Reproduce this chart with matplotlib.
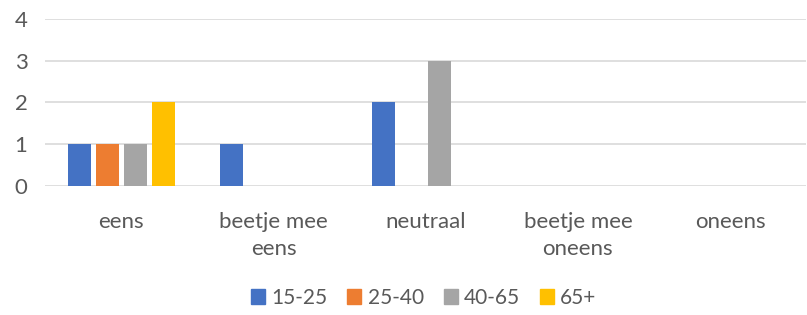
import numpy as np
import matplotlib.pyplot as plt
from matplotlib.patches import Patch

categories = ["eens", "beetje mee\neens", "neutraal", "beetje mee\noneens", "oneens"]
series = ["15-25", "25-40", "40-65", "65+"]
vals_15_25 = [1, 1, 2, 0, 0]
vals_25_40 = [1, 0, 0, 0, 0]
vals_40_65 = [1, 0, 3, 0, 0]
vals_65 = [2, 0, 0, 0, 0]
colors = ["#4472C4", "#ED7D31", "#A5A5A5", "#FFC000"]

plt.rcParams["font.family"] = ["Lato", "DejaVu Sans"]
text_color = "#595959"

fig = plt.figure(figsize=(8.07, 3.15), dpi=100)
ax = fig.add_axes([0.056, 0.41, 0.943, 0.53])

x = np.arange(len(categories))
step = 0.184
width = 0.15
for i, (vals, c) in enumerate(zip([vals_15_25, vals_25_40, vals_40_65, vals_65], colors)):
    ax.bar(x + (i - 1.5) * step, vals, width=width, color=c, zorder=3)

ax.set_xlim(-0.5, len(categories) - 0.5)
ax.set_ylim(0, 4)
ax.set_yticks([0, 1, 2, 3, 4])
ax.grid(axis="y", color="#D9D9D9", linewidth=1.2, zorder=0)
for s in ax.spines.values():
    s.set_visible(False)
ax.tick_params(axis="both", length=0, labelsize=16, colors=text_color)
ax.tick_params(axis="y", pad=22)
for lbl in ax.get_yticklabels():
    lbl.set_horizontalalignment("left")
ax.set_xticks(x)
ax.set_xticklabels(categories, linespacing=1.45)
ax.tick_params(axis="x", pad=19)

handles = [Patch(color=c) for c in colors]
fig.legend(handles, series, loc="center", bbox_to_anchor=(0.525, 0.055), ncol=4,
           frameon=False, fontsize=15, handlelength=0.68, handleheight=0.68,
           handletextpad=0.3, columnspacing=0.95, labelcolor=text_color)

fig.savefig("out.png", dpi=100)
